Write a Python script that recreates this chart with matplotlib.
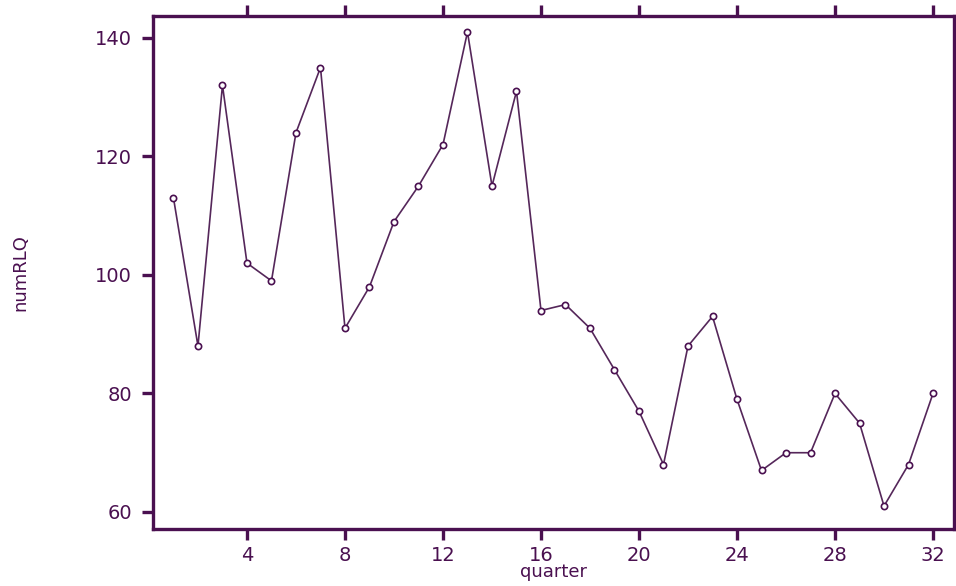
import numpy as np
import matplotlib.pyplot as plt

quarter = np.arange(1, 33)
numRLQ = [113, 88, 132, 102, 99, 124, 135, 91, 98, 109, 115, 122, 141, 115, 131, 94,
          95, 91, 84, 77, 68, 88, 93, 79, 67, 70, 70, 80, 75, 61, 68, 80]
xticks = [4, 8, 12, 16, 20, 24, 28, 32]
yticks = [60, 80, 100, 120, 140]

col = '#4a1050'
fig = plt.figure(figsize=(9.56, 5.86), dpi=100)
ax = fig.add_axes([0.160, 0.0973, 0.838, 0.8754])

ax.plot(quarter, numRLQ, color='#55275a', lw=1.2, marker='o', ms=4.5,
        mfc='white', mec=col, mew=1.2)

ax.set_xlim(0.163, 32.86)
ax.set_ylim(57.13, 143.7)
ax.set_xticks(xticks)
ax.set_yticks(yticks)
for s in ax.spines.values():
    s.set_color(col)
    s.set_linewidth(2.4)
ax.tick_params(axis='both', direction='out', length=8, width=2.4, color=col,
               labelcolor=col, labelsize=14, top=True, right=True)
ax.tick_params(axis='y', pad=7)
ax.tick_params(axis='x', pad=4)
ax.set_xlabel('quarter', color=col, fontsize=13, labelpad=-1)
ax.set_ylabel('numRLQ', color=col, fontsize=13, labelpad=47)

fig.savefig('out.png', dpi=100)
